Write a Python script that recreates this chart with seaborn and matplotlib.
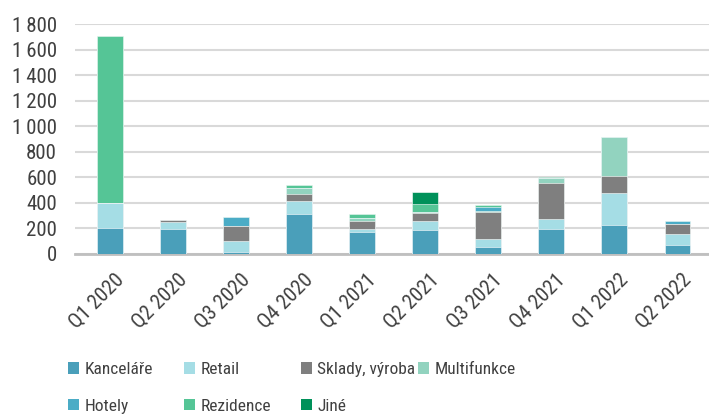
import matplotlib
matplotlib.use("Agg")
import matplotlib.pyplot as plt
from matplotlib.patches import Patch
from matplotlib.transforms import ScaledTranslation
import seaborn as sns
import pandas as pd
import numpy as np

kvartaly = ["Q1 2020", "Q2 2020", "Q3 2020", "Q4 2020", "Q1 2021",
            "Q2 2021", "Q3 2021", "Q4 2021", "Q1 2022", "Q2 2022"]

kancelare   = [200, 196, 12, 314, 172, 186, 52, 196, 227, 65]
retail      = [200, 55, 90, 97, 19, 70, 66, 74, 251, 89]
sklady      = [0, 15, 118, 57, 65, 65, 209, 282, 134, 76]
multifunkce = [0, 0, 0, 45, 26, 8, 10, 39, 306, 0]
hotely      = [0, 0, 68, 0, 0, 0, 26, 0, 0, 29]
rezidence   = [1312, 0, 0, 28, 27, 61, 20, 0, 0, 0]
jine        = [0, 0, 0, 0, 0, 96, 0, 13, 0, 0]

serie = ["Kanceláře", "Retail", "Sklady, výroba", "Multifunkce", "Hotely", "Rezidence", "Jiné"]
hodnoty = [kancelare, retail, sklady, multifunkce, hotely, rezidence, jine]
barvy = ["#4a9fba", "#a5dde5", "#7f7f7f", "#92d3bf", "#4bacc6", "#55c596", "#00915a"]

sns.set_style("white")
plt.rcParams["font.family"] = ["Roboto Condensed", "Roboto", "DejaVu Sans"]

df = pd.DataFrame(dict(zip(serie, hodnoty)), index=kvartaly)
kumul = df.cumsum(axis=1)

fig = plt.figure(figsize=(7.09, 4.15), dpi=100)
ax = fig.add_axes([0.106, 0.389, 0.894, 0.552])

# skladany graf: kumulativni soucty od horni serie dolu
for nazev, barva in reversed(list(zip(serie, barvy))):
    sns.barplot(x=kumul.index, y=kumul[nazev].values, color=barva,
                width=0.41, saturation=1, ax=ax, zorder=3,
                edgecolor="white", linewidth=0.4)

ax.set_ylim(0, 1800)
ax.set_yticks(np.arange(0, 1801, 200))
ax.set_yticklabels([f"{v:,}".replace(",", "\u2009") for v in range(0, 1801, 200)])
ax.set_xlim(-0.55, 9.5)
ax.yaxis.grid(True, color="#d9d9d9", linewidth=1.5, zorder=0)
ax.set_axisbelow(True)
for s in ["top", "right", "left"]:
    ax.spines[s].set_visible(False)
ax.spines["bottom"].set_color("#bfbfbf")
ax.spines["bottom"].set_linewidth(2)
ax.tick_params(axis="y", length=0, labelsize=15, colors="#404040", pad=13)
ax.tick_params(axis="x", length=0, labelsize=15, colors="#404040", pad=12)
posun = ScaledTranslation(3 / 72, 0, fig.dpi_scale_trans)
for lbl in ax.get_xticklabels():
    lbl.set_rotation(45)
    lbl.set_ha("right")
    lbl.set_rotation_mode("anchor")
    lbl.set_transform(lbl.get_transform() + posun)
ax.set_xlabel("")
ax.set_ylabel("")

# legenda: 4 sloupce s pevnou sirkou (jako v Excelu)
sloupce = [[0, 4], [1, 5], [2, 6], [3]]
x_pozice = [68, 184, 301, 418]
for idx, x0 in zip(sloupce, x_pozice):
    handles = [Patch(facecolor=barvy[i], edgecolor="none") for i in idx]
    fig.legend(handles, [serie[i] for i in idx], loc="upper left",
               bbox_to_anchor=(x0 / 709, 1 - 362 / 415),
               bbox_transform=fig.transFigure, frameon=False,
               fontsize=12.5, labelcolor="#404040",
               handlelength=0.65, handleheight=0.65, handletextpad=0.3,
               labelspacing=1.25, borderpad=0, borderaxespad=0)

fig.savefig("out.png", dpi=100)
